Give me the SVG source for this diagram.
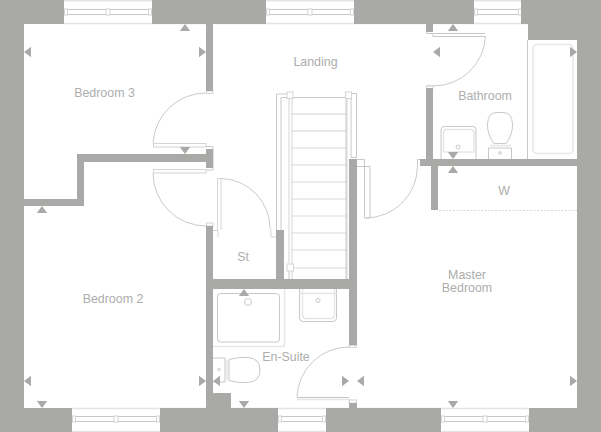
<svg xmlns="http://www.w3.org/2000/svg" xmlns:xlink="http://www.w3.org/1999/xlink" width="601" height="432" viewBox="0 0 601 432">
<style>
.w{fill:#a9a9a8}
.t{fill:#a9a9a8}
.l{fill:none;stroke:#c8c8c8;stroke-width:1}
.p{fill:none;stroke:#e6e6e6;stroke-width:1.5}
.f{fill:#fff;stroke:#d4d4d4;stroke-width:1}
.a{fill:none;stroke:#bdbdbd;stroke-width:.8}
text{font-family:"Liberation Sans",Arial,sans-serif;font-size:12.4px;fill:#adadad;text-anchor:middle}
</style>
<defs>
<polygon id="u" class="t" points="0,0 5.2,7 -5.2,7"/>
<polygon id="d" class="t" points="0,0 5.2,-7 -5.2,-7"/>
<polygon id="lf" class="t" points="0,0 7,-5.2 7,5.2"/>
<polygon id="r" class="t" points="0,0 -7,-5.2 -7,5.2"/>
<g id="win">
<path class="l" d="M0 .5H88M0 5.5H88"/>
<rect class="f" x="0.5" y="0" width="3" height="6"/>
<rect class="f" x="42" y="0" width="4" height="6"/>
<rect class="f" x="84.500" y="0" width="3" height="6"/>
</g>
<g id="swin">
<path class="l" d="M0 .5H48M0 5.5H48"/>
<rect class="f" x="0.5" y="0" width="3" height="6"/>
<rect class="f" x="44.500" y="0" width="3" height="6"/>
</g>
</defs>
<rect width="601" height="432" fill="#fff"/>
<g id="outline">
<path d="M64 .8H521M64 23.500H528M72 408.500H529M72 431.500H529" fill="none" stroke="#e4e4e4" stroke-width="1.4"/>
</g>
<g id="windows">
<use href="#win" x="64" y="9"/>
<use href="#win" x="266" y="9"/>
<use href="#swin" x="474" y="9"/>
<use href="#win" x="72" y="416"/>
<use href="#swin" x="278" y="416"/>
<use href="#win" x="441" y="416"/>
</g>
<g id="stairs">
<path d="M292 114H347M292 131H347" stroke="#cfcfcf" stroke-width="1" fill="none"/>
<path d="M292 148H347M292 165H347M292 182H347M292 199H347M292 216H347M292 233H347M292 250H347M292 268H347" stroke="#e6e6e6" stroke-width="1.6" fill="none"/>
<path class="l" d="M292 97.500H346"/>
<path d="M289 97V263M292 97V280M347 97V280" fill="none" stroke="#dcdcdc" stroke-width="1.2"/>
<path class="l" d="M287 94H276.500V230M287 97.500H281V230M351 93.500H356.500V157M351 97V157M346 97V279"/>
<rect class="f" x="287" y="92" width="6" height="6.500"/>
<rect class="f" x="345.500" y="92" width="6" height="6.500"/>
<rect class="f" x="287" y="264" width="6.500" height="7"/>
<path class="l" d="M276 230.500H281M351 157.500H357M289 271V279"/>
</g>
<g id="doors">
<path class="a" d="M153 143A53 53 0 0 1 206 93"/>
<rect class="f" x="153.500" y="143.500" width="52.500" height="3.500"/>
<path class="l" d="M206 146.500H213V170M206 170H213"/>
<path class="a" d="M153 173A53 53 0 0 0 206 226"/>
<rect class="f" x="153.500" y="169.500" width="52.500" height="3.500"/>
<rect class="f" x="206.500" y="91" width="6.500" height="2.500"/>
<rect class="f" x="206.500" y="223" width="6.500" height="3"/>
<path class="a" d="M221 178.500A50 50 0 0 1 270 229"/>
<path d="M217.500 178.500V230M221 178.500V230M217.500 178.500H221M213 230.500H218V237M271 229V237H276" fill="none" stroke="#d6d6d6" stroke-width="1"/>
<path class="l" d="M433 33.500V36.500H485M426.500 30.500V33.500H433M433 33.500H485"/>
<path class="a" d="M485.500 36A52 52 0 0 1 433 86H426"/>
<rect class="f" x="426.500" y="86" width="6.500" height="2.500"/>
<path class="a" d="M417.500 166A52 52 0 0 1 366 218"/>
<path class="l" d="M417.500 166V159.500H420M357 159.500H364.500V166.500M357 166.500H370V218H364.500V166.500"/>
<path class="a" d="M297 397A52 52 0 0 1 349 347"/>
<path d="M297 397.500H349" stroke="#c4c4c4" stroke-width="1" fill="none"/>
<path d="M297 399.500H349V403" stroke="#e6e6e6" stroke-width="1.500" fill="none"/>
<rect class="f" x="349.500" y="400" width="7" height="3"/>
<rect class="f" x="349.500" y="345.500" width="7" height="2"/>
</g>
<g id="bathroom-fixtures">
<path class="l" d="M527.500 40V159"/>
<rect class="p" x="533" y="44.500" width="40" height="109" rx="4"/>
<path class="l" d="M441 159V130Q441 126.500 444 126.500H473Q476 126.500 476 130V159"/>
<path class="p" d="M443.500 152V133Q443.500 129.500 446 129.500H471Q474 129.500 474 133V152H443.500"/>
<circle class="l" cx="458" cy="147" r="2"/>
<path class="l" d="M494 143.500Q487.500 135 487.500 125Q487.500 112.500 497 112.500H503Q512.500 112.500 512.500 125Q512.500 135 506 143.500ZM488.500 159V148H511.500V159"/>
<path class="p" d="M490 145.500H511"/>
<circle class="l" cx="500" cy="153" r="1.300"/>
</g>
<g id="ensuite-fixtures">
<rect class="l" x="217.500" y="293.500" width="62" height="48.500" rx="3"/>
<path class="p" d="M213 346.500H284.500V289"/>
<circle class="l" cx="248" cy="302" r="3.500"/>
<path class="l" d="M299.500 289V318Q299.500 321.500 303 321.500H333Q336.500 321.500 336.500 318V289"/>
<path class="p" d="M302.500 289V315Q302.500 318.500 306 318.500H331Q334.500 318.500 334.500 315V289"/>
<path class="p" d="M299.500 293.500H336.500"/>
<circle class="l" cx="318" cy="300.500" r="2"/>
<path class="l" d="M213 358H225V382H213M229 359.500Q240 356.500 248 357.500Q260 358.500 260 370Q260 381.500 248 382.500Q240 383.500 229 380.500Z"/>
<path class="p" d="M227 360V380"/>
<circle class="l" cx="219" cy="369.500" r="1.300"/>
<path d="M439 210.500H577" fill="none" stroke="#d8d8d8" stroke-width="1" stroke-dasharray="2 1.500"/>
</g>
<g id="walls">
<path class="w" d="M0 0H64V24H24V199H77V154H206V149H213V168H206V162H84V206H24V408H72V432H0Z"/>
<rect class="w" x="206" y="24" width="7" height="67"/>
<rect class="w" x="152" y="0" width="114" height="24"/>
<rect class="w" x="354" y="0" width="120" height="24"/>
<path class="w" d="M521 0H601V432H529V408H577V40H528V24H521Z"/>
<rect class="w" x="160" y="408" width="118" height="24"/>
<rect class="w" x="326" y="408" width="115" height="24"/>
<rect class="w" x="206" y="226" width="7" height="182"/>
<rect class="w" x="213" y="393" width="18" height="15"/>
<rect class="w" x="206" y="279" width="151" height="10"/>
<rect class="w" x="276" y="230" width="8" height="49"/>
<rect class="w" x="349" y="159" width="8" height="186"/>
<rect class="w" x="349" y="403" width="8" height="5"/>
<rect class="w" x="426" y="24" width="7" height="8"/>
<rect class="w" x="426" y="88" width="7" height="71"/>
<rect class="w" x="420" y="159" width="157" height="7"/>
<rect class="w" x="431" y="166" width="7" height="44"/>
</g>
<g id="markers">
<use href="#u" x="185" y="24"/><use href="#u" x="453" y="24"/><use href="#u" x="453" y="166"/><use href="#u" x="42" y="206"/><use href="#u" x="244" y="289"/>
<use href="#d" x="185" y="154"/><use href="#d" x="453" y="159"/><use href="#d" x="42" y="408"/><use href="#d" x="244" y="408"/><use href="#d" x="453" y="408"/>
<use href="#lf" x="24" y="52"/><use href="#lf" x="433" y="52"/><use href="#lf" x="24" y="381"/><use href="#lf" x="213" y="381"/><use href="#lf" x="357" y="381"/>
<use href="#r" x="206" y="52"/><use href="#r" x="577" y="52"/><use href="#r" x="206" y="381"/><use href="#r" x="349" y="381"/><use href="#r" x="577" y="381"/>
</g>
<g id="labels">
<text x="104.500" y="97">Bedroom 3</text>
<text x="315.500" y="66">Landing</text>
<text x="485" y="100">Bathroom</text>
<text x="504" y="195">W</text>
<text x="243" y="261">St</text>
<text x="113" y="303">Bedroom 2</text>
<text x="286" y="361">En-Suite</text>
<text x="467" y="279">Master</text>
<text x="467" y="292">Bedroom</text>
</g>
</svg>
